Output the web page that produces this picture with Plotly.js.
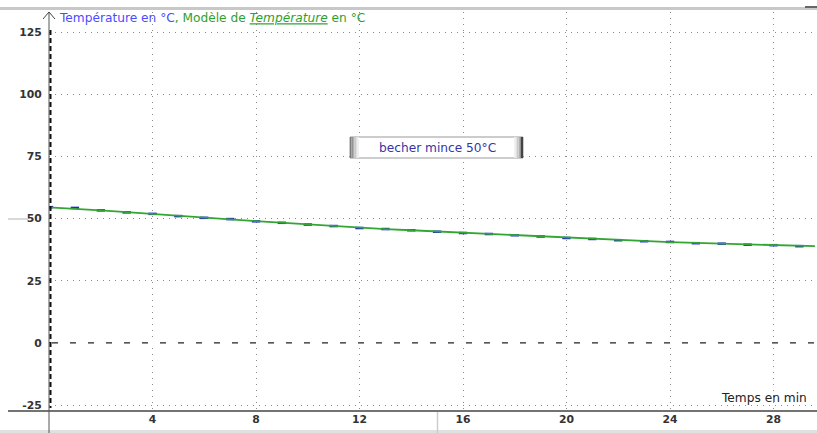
<!DOCTYPE html>
<html><head><meta charset="utf-8">
<script src="https://cdn.plot.ly/plotly-3.0.1.min.js"></script>
<style>html,body{margin:0;padding:0;background:#fff}#chart{width:817px;height:433px}</style>
</head><body><div id="chart"></div>
<script>
// Data
var tempsModel = [0,1,2,3,4,5,6,7,8,9,10,11,12,13,14,15,16,17,18,19,20,21,22,23,24,25,26,27,28,29,29.6];
var tempModel  = [54.5,54.0,53.3,52.6,51.8,51.1,50.4,49.7,49.0,48.3,47.7,47.0,46.3,45.8,45.3,44.8,44.3,43.8,43.3,42.8,42.3,41.8,41.4,40.9,40.5,40.2,39.9,39.6,39.3,39.0,38.9];
var tempsMes = [0,1,2,3,4,5,6,7,8,9,10,11,12,13,14,15,16,17,18,19,20,21,22,23,24,25,26,27,28,29];
var tempMes  = [54.6,54.3,53.3,52.5,51.9,51.0,50.3,49.8,48.9,48.3,47.6,47.0,46.2,45.8,45.3,44.7,44.2,43.8,43.3,42.8,42.2,41.8,41.3,40.9,40.6,40.1,39.9,39.5,39.3,38.9];
var xTicks = [4,8,12,16,20,24,28];
var yTicks = [-25,0,25,50,75,100,125];

var W = 817, H = 433, L = 49, R = 2, T = 12, B = 22;
var pw = W - L - R, ph = H - T - B;
function px(x){ return (x - L) / pw; }
function py(y){ return 1 - (y - T) / ph; }
var FONT = 'DejaVu Sans, Verdana, sans-serif';

var shapes = [];
// top gray bar
shapes.push({type:'rect', xref:'paper', yref:'paper', x0:px(0), x1:px(817), y0:py(10), y1:py(7), fillcolor:'#c8c8c8', line:{width:0}, layer:'above'});
shapes.push({type:'rect', xref:'paper', yref:'paper', x0:px(805), x1:px(817), y0:py(8), y1:py(6), fillcolor:'#666', line:{width:0}, layer:'above'});
// bottom gray bar
shapes.push({type:'rect', xref:'paper', yref:'paper', x0:px(0), x1:px(817), y0:py(433), y1:py(430), fillcolor:'#e0e0e0', line:{width:0}, layer:'above'});
// x axis line extended to the left
shapes.push({type:'line', xref:'paper', yref:'paper', x0:px(8), x1:px(817), y0:py(411), y1:py(411), line:{color:'#444', width:1.5}, layer:'above'});
// gray separator below axis
shapes.push({type:'line', xref:'paper', yref:'paper', x0:px(437.5), x1:px(437.5), y0:py(412), y1:py(433), line:{color:'#ccc', width:1.5}, layer:'above'});
// small gray line left of 50
shapes.push({type:'line', xref:'paper', yref:'paper', x0:px(8), x1:px(28), y0:py(219), y1:py(219), line:{color:'#ccc', width:1.5}, layer:'above'});
// y axis solid line
shapes.push({type:'line', xref:'paper', yref:'paper', x0:px(49), x1:px(49), y0:py(12), y1:py(433), line:{color:'#555', width:1}, layer:'above'});
// y axis dashed thick
shapes.push({type:'line', xref:'paper', yref:'paper', x0:px(50.5), x1:px(50.5), y0:py(30), y1:py(408), line:{color:'#111', width:2, dash:'5px,3px'}, layer:'above'});
// arrow
shapes.push({type:'path', xref:'paper', yref:'paper', path:'M '+px(43)+','+py(19)+' L '+px(49)+','+py(12)+' L '+px(55)+','+py(19), line:{color:'#444', width:1}, layer:'above'});
// zero dashed line (white underlay hides dotted grid)
shapes.push({type:'line', xref:'paper', yref:'y', x0:px(52), x1:1, y0:0, y1:0, line:{color:'#ffffff', width:2}, layer:'above'});
shapes.push({type:'line', xref:'paper', yref:'y', x0:px(52), x1:1, y0:0, y1:0, line:{color:'#222', width:1.3, dash:'6px,12px'}, layer:'above'});
// annotation box
var bx0 = 350, bx1 = 523, by0 = 137, by1 = 158;
shapes.push({type:'rect', xref:'paper', yref:'paper', x0:px(bx0), x1:px(bx1), y0:py(by1), y1:py(by0), fillcolor:'#ffffff', line:{color:'#999', width:1}, layer:'above'});
var lg = ['#7a7a7a','#959595','#b0b0b0','#cacaca','#e0e0e0','#f0f0f0'];
for (var i = 0; i < lg.length; i++) {
  shapes.push({type:'rect', xref:'paper', yref:'paper', x0:px(bx0+i*1.5), x1:px(bx0+(i+1)*1.5), y0:py(by1), y1:py(by0), fillcolor:lg[i], line:{width:0}, layer:'above'});
  shapes.push({type:'rect', xref:'paper', yref:'paper', x0:px(bx1-(i+1)*1.5), x1:px(bx1-i*1.5), y0:py(by1), y1:py(by0), fillcolor:lg[i], line:{width:0}, layer:'above'});
}
shapes.push({type:'rect', xref:'paper', yref:'paper', x0:px(bx1-2), x1:px(bx1), y0:py(by1), y1:py(by0), fillcolor:'#444', line:{width:0}, layer:'above'});

var traces = [
  {x: tempsMes, y: tempMes, type:'scatter', mode:'markers', marker:{symbol:'line-ew', size:6, line:{color:'#2222dd', width:2.5}}, hoverinfo:'skip', name:'Température'},
  {x: tempsModel, y: tempModel, type:'scatter', mode:'lines', line:{color:'#33a533', width:1.8}, hoverinfo:'skip', name:'Modèle'}
];

var layout = {
  width: W, height: H,
  margin: {l: L, r: R, t: T, b: B, pad: 0},
  paper_bgcolor: '#ffffff', plot_bgcolor: '#ffffff',
  showlegend: false,
  font: {family: FONT, size: 11, color: '#333'},
  title: {
    text: '<span style="color:#4b4bff">Température en °C</span><span style="color:#2ea02e">, Modèle de <i><u>Température</u></i> en °C</span>',
    x: 60/W, xanchor: 'left', xref: 'container',
    y: 1 - 18/H, yanchor: 'middle', yref: 'container',
    font: {family: FONT, size: 12.2}
  },
  xaxis: {
    range: [0, pw/25.875], tickvals: xTicks, ticktext: xTicks.map(String),
    showgrid: true, gridcolor: '#8a8a8a', griddash: '1px,5px', gridwidth: 1,
    zeroline: false, showline: false, ticks: '', ticklen: 0,
    tickfont: {family: FONT, size: 10.8, color: '#333', weight: 'bold'},
    fixedrange: true
  },
  yaxis: {
    range: [-27.4, 133.1], tickvals: yTicks, ticktext: yTicks.map(String),
    showgrid: true, gridcolor: '#8a8a8a', griddash: '1px,5px', gridwidth: 1,
    zeroline: false, showline: false, ticks: 'outside', ticklen: 4, tickcolor: 'rgba(0,0,0,0)',
    tickfont: {family: FONT, size: 10.8, color: '#333', weight: 'bold'},
    fixedrange: true
  },
  shapes: shapes,
  annotations: [
    {xref:'paper', yref:'paper', x: px(809), y: py(398), xanchor:'right', yanchor:'middle', showarrow:false,
     text:'Temps en min', font:{family:FONT, size:12.2, color:'#222'}},
    {xref:'paper', yref:'paper', x: px(437), y: py(148), xanchor:'center', yanchor:'middle', showarrow:false,
     text:'becher mince 50°C', font:{family:FONT, size:12.2, color:'#3535a8'}}
  ]
};

Plotly.newPlot('chart', traces, layout, {staticPlot: true, displayModeBar: false});
</script></body></html>
